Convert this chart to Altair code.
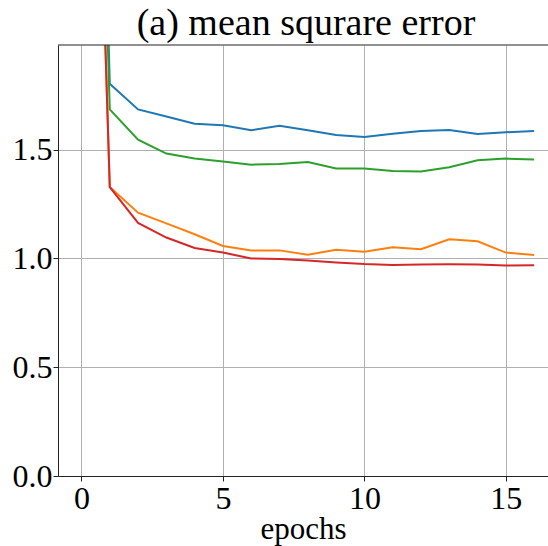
import altair as alt
import pandas as pd

epochs = list(range(17))
blue = [6.5, 1.803, 1.685, 1.652, 1.619, 1.612, 1.589, 1.610, 1.589, 1.567, 1.558, 1.573, 1.586, 1.590, 1.572, 1.580, 1.586]
orange = [5.5, 1.328, 1.210, 1.161, 1.111, 1.057, 1.037, 1.037, 1.017, 1.040, 1.031, 1.051, 1.042, 1.088, 1.079, 1.027, 1.016]
green = [6.0, 1.685, 1.546, 1.482, 1.459, 1.445, 1.431, 1.434, 1.443, 1.413, 1.413, 1.402, 1.400, 1.419, 1.451, 1.459, 1.455]
red = [5.5, 1.328, 1.163, 1.096, 1.048, 1.027, 1.000, 0.997, 0.990, 0.981, 0.974, 0.970, 0.972, 0.973, 0.972, 0.967, 0.969]

series_names = ["1", "2", "3", "4"]
series_values = [blue, orange, green, red]
colors = ["#1f77b4", "#ff7f0e", "#2ca02c", "#d62728"]

rows = []
for name, vals in zip(series_names, series_values):
    for e, v in zip(epochs, vals):
        rows.append({"epoch": e, "mse": v, "series": name})
df = pd.DataFrame(rows)

FONT = "'Liberation Serif', 'Times New Roman', serif"
W, H = 490, 431

x_scale = alt.Scale(domain=[-0.83, 16.49], nice=False, zero=False)
y_scale = alt.Scale(domain=[0, 1.981], nice=False, zero=False)

lines = alt.Chart(df).mark_line(strokeWidth=2, clip=True).encode(
    x=alt.X("epoch:Q", scale=x_scale,
            axis=alt.Axis(values=[0, 5, 10, 15], title="epochs", format="d")),
    y=alt.Y("mse:Q", scale=y_scale,
            axis=alt.Axis(values=[0, 0.5, 1.0, 1.5], title=None, format=".1f")),
    color=alt.Color("series:N", scale=alt.Scale(domain=series_names, range=colors), legend=None),
    order=alt.Order("epoch:Q"),
)

top = alt.Chart(pd.DataFrame({"v": [0]})).mark_rule(color="#222", strokeWidth=1).encode(
    y=alt.value(0), x=alt.value(0), x2=alt.value(W)
)

chart = alt.layer(lines, top).properties(
    width=W, height=H,
    title=alt.TitleParams("(a) mean squrare error", font=FONT, fontSize=38,
                          fontWeight="normal", color="black", anchor="middle",
                          offset=2, dx=3),
    autosize=alt.AutoSizeParams(type="none"),
    padding={"left": 58, "top": 45, "right": 0, "bottom": 70},
).configure_view(stroke=None).configure_axis(
    labelFont=FONT, titleFont=FONT, labelFontSize=32, titleFontSize=31,
    labelColor="black", titleColor="black", titleFontWeight="normal",
    gridColor="#b0b0b0", gridWidth=1, domainColor="#222", domainWidth=1,
    tickColor="#222", tickSize=5,
).configure_axisX(titlePadding=0, labelPadding=2).configure_axisY(labelPadding=1)

chart.save("out.html", embed_options={"renderer": "svg", "actions": False})
